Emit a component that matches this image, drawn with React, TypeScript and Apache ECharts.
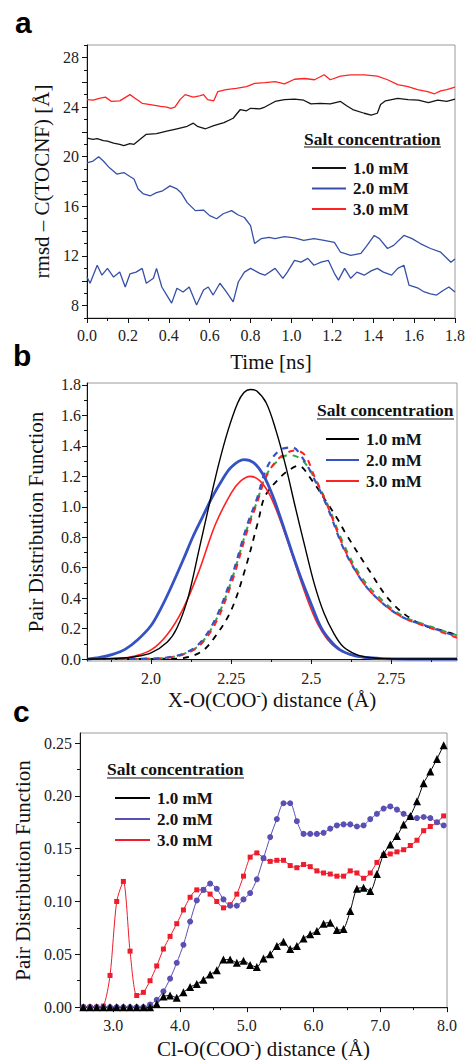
import React, { useEffect, useRef } from 'react';
import * as echarts from 'echarts';

const SERIF = '"Liberation Serif", "Times New Roman", serif';
const SANS = '"Liberation Sans", Arial, sans-serif';

// ---------- Panel a: rmsd vs time ----------
const rmsd10: [number, number][] = [
  [0, 21.5], [0.03, 21.4], [0.05, 21.45], [0.08, 21.3], [0.1, 21.25], [0.13, 21.1], [0.16, 21.0], [0.18, 20.9],
  [0.21, 21.05], [0.23, 21.0], [0.26, 21.4], [0.29, 21.8], [0.34, 21.85], [0.39, 22.05], [0.44, 22.25], [0.49, 22.45],
  [0.52, 22.7], [0.54, 22.45], [0.58, 22.25], [0.62, 22.5], [0.67, 22.75], [0.715, 23.1], [0.75, 23.8], [0.78, 23.7],
  [0.8, 23.9], [0.845, 23.85], [0.87, 24.0], [0.92, 24.45], [0.966, 24.6], [1.015, 24.64], [1.06, 24.55], [1.095, 24.25],
  [1.14, 24.3], [1.19, 24.25], [1.24, 24.45], [1.27, 24.1], [1.3, 23.8], [1.356, 23.5], [1.39, 23.35], [1.42, 23.5],
  [1.436, 24.2], [1.46, 24.5], [1.52, 24.7], [1.57, 24.6], [1.62, 24.55], [1.67, 24.35], [1.715, 24.55], [1.76, 24.45], [1.8, 24.64],
];
const rmsd20a: [number, number][] = [
  [0, 19.5], [0.03, 19.65], [0.057, 20.0], [0.08, 19.65], [0.11, 19.1], [0.146, 18.6], [0.18, 18.72], [0.21, 18.4],
  [0.23, 18.2], [0.25, 17.4], [0.276, 17.0], [0.31, 16.85], [0.34, 17.1], [0.37, 17.25], [0.406, 17.65], [0.44, 17.4],
  [0.46, 17.1], [0.49, 16.3], [0.53, 15.65], [0.57, 15.7], [0.6, 15.25], [0.634, 15.0], [0.666, 15.4], [0.707, 15.65],
  [0.74, 15.3], [0.77, 15.1], [0.8, 14.45], [0.82, 13.0], [0.853, 13.4], [0.89, 13.5], [0.92, 13.4], [0.966, 13.55],
  [1.015, 13.45], [1.06, 13.25], [1.11, 13.4], [1.16, 13.25], [1.21, 13.1], [1.24, 12.3], [1.29, 12.05], [1.34, 12.2],
  [1.37, 12.85], [1.405, 13.65], [1.43, 13.4], [1.47, 12.6], [1.5, 12.85], [1.55, 13.65], [1.59, 13.4], [1.63, 13.0],
  [1.68, 12.6], [1.73, 12.3], [1.78, 11.5], [1.8, 11.75],
];
const rmsd20b: [number, number][] = [
  [0, 10.3], [0.015, 9.8], [0.05, 11.25], [0.073, 10.45], [0.1, 11.0], [0.13, 10.3], [0.16, 10.7], [0.187, 9.5],
  [0.21, 10.55], [0.24, 10.7], [0.27, 11.0], [0.29, 9.8], [0.325, 10.2], [0.34, 11.0], [0.366, 9.5], [0.39, 8.85],
  [0.414, 8.2], [0.44, 9.4], [0.47, 9.1], [0.5, 9.5], [0.536, 8.05], [0.57, 9.25], [0.593, 9.5], [0.617, 8.85],
  [0.65, 9.8], [0.68, 9.15], [0.715, 8.3], [0.74, 9.9], [0.77, 10.7], [0.8, 11.0], [0.845, 10.6], [0.87, 10.45],
  [0.92, 11.0], [0.958, 10.2], [0.98, 10.7], [1.015, 11.65], [1.047, 11.5], [1.08, 11.8], [1.11, 11.25], [1.145, 11.5],
  [1.18, 11.65], [1.21, 10.6], [1.23, 10.05], [1.26, 11.0], [1.29, 10.2], [1.32, 10.7], [1.356, 10.45], [1.39, 10.8],
  [1.42, 11.0], [1.45, 10.7], [1.49, 10.45], [1.52, 11.0], [1.55, 11.25], [1.575, 9.65], [1.62, 9.4], [1.65, 9.1],
  [1.68, 8.95], [1.71, 8.85], [1.74, 9.2], [1.77, 9.5], [1.8, 9.1],
];
const rmsd30: [number, number][] = [
  [0, 24.6], [0.03, 24.55], [0.06, 24.7], [0.09, 24.8], [0.12, 24.45], [0.16, 24.5], [0.19, 24.8], [0.21, 25.0],
  [0.24, 24.65], [0.27, 24.3], [0.31, 24.2], [0.36, 24.05], [0.39, 24.0], [0.41, 23.9], [0.43, 24.0], [0.455, 24.6],
  [0.48, 25.0], [0.52, 24.8], [0.55, 24.9], [0.57, 25.0], [0.59, 24.6], [0.62, 24.5], [0.64, 25.25], [0.68, 25.4],
  [0.73, 25.5], [0.78, 25.65], [0.82, 25.9], [0.87, 25.97], [0.92, 26.05], [0.966, 25.87], [1.015, 26.24], [1.064, 26.3],
  [1.113, 26.2], [1.16, 26.6], [1.19, 26.2], [1.24, 26.5], [1.29, 26.6], [1.356, 26.6], [1.42, 26.5], [1.47, 26.2],
  [1.52, 25.8], [1.57, 25.65], [1.617, 25.4], [1.666, 25.25], [1.7, 25.07], [1.73, 25.3], [1.76, 25.4], [1.8, 25.6],
];

// ---------- Panel b: X-O(COO-) pair distribution ----------
const pdfB10: [number, number][] = [
  [1.8, 0], [1.9, 0.005], [1.95, 0.015], [2.0, 0.04], [2.05, 0.11], [2.08, 0.2], [2.115, 0.4], [2.15, 0.72], [2.18, 1.0],
  [2.21, 1.27], [2.24, 1.5], [2.27, 1.68], [2.29, 1.75], [2.31, 1.77], [2.33, 1.76], [2.36, 1.68], [2.39, 1.5], [2.42, 1.27],
  [2.45, 1.0], [2.48, 0.74], [2.51, 0.49], [2.54, 0.3], [2.57, 0.17], [2.6, 0.08], [2.64, 0.03], [2.68, 0.01], [2.74, 0.002],
  [2.8, 0], [2.955, 0],
];
const pdfB20: [number, number][] = [
  [1.8, 0], [1.84, 0.01], [1.88, 0.03], [1.92, 0.065], [1.96, 0.13], [2.0, 0.22], [2.03, 0.33], [2.06, 0.46], [2.1, 0.65],
  [2.13, 0.8], [2.16, 0.93], [2.19, 1.06], [2.22, 1.17], [2.25, 1.26], [2.29, 1.31], [2.32, 1.29], [2.35, 1.21], [2.38, 1.07],
  [2.41, 0.89], [2.44, 0.7], [2.47, 0.52], [2.5, 0.36], [2.53, 0.21], [2.56, 0.12], [2.59, 0.06], [2.63, 0.025], [2.67, 0.01],
  [2.72, 0.003], [2.8, 0], [2.955, 0],
];
const pdfB30: [number, number][] = [
  [1.8, 0], [1.9, 0.005], [1.95, 0.02], [2.0, 0.06], [2.05, 0.16], [2.1, 0.33], [2.15, 0.58], [2.2, 0.88], [2.25, 1.09],
  [2.28, 1.17], [2.31, 1.2], [2.34, 1.17], [2.37, 1.08], [2.4, 0.93], [2.43, 0.75], [2.46, 0.56], [2.49, 0.38], [2.52, 0.23],
  [2.55, 0.13], [2.58, 0.07], [2.62, 0.03], [2.66, 0.01], [2.72, 0.002], [2.8, 0], [2.955, 0],
];
const pdfBDashBlue: [number, number][] = [
  [1.8, 0], [1.9, 0], [2.0, 0.003], [2.05, 0.01], [2.1, 0.035], [2.15, 0.1], [2.2, 0.26], [2.25, 0.53], [2.3, 0.88],
  [2.33, 1.05], [2.36, 1.25], [2.4, 1.37], [2.44, 1.39], [2.47, 1.33], [2.51, 1.18], [2.55, 1.0], [2.6, 0.73], [2.65, 0.54],
  [2.7, 0.41], [2.78, 0.28], [2.87, 0.21], [2.955, 0.147],
];
const pdfBDashRed: [number, number][] = [
  [1.8, 0], [1.9, 0], [2.0, 0.002], [2.05, 0.008], [2.1, 0.03], [2.15, 0.085], [2.2, 0.23], [2.25, 0.49], [2.3, 0.84],
  [2.33, 1.02], [2.36, 1.2], [2.4, 1.32], [2.45, 1.37], [2.48, 1.34], [2.51, 1.2], [2.55, 1.01], [2.6, 0.74], [2.65, 0.54],
  [2.7, 0.41], [2.78, 0.28], [2.87, 0.205], [2.955, 0.14],
];
const pdfBDashGreen: [number, number][] = [
  [1.8, 0], [1.9, 0], [2.0, 0.002], [2.05, 0.009], [2.1, 0.032], [2.15, 0.09], [2.2, 0.245], [2.25, 0.51], [2.3, 0.86],
  [2.33, 1.03], [2.36, 1.21], [2.4, 1.31], [2.43, 1.34], [2.47, 1.31], [2.51, 1.19], [2.55, 1.02], [2.6, 0.76], [2.65, 0.56],
  [2.7, 0.43], [2.78, 0.29], [2.87, 0.215], [2.955, 0.155],
];
const pdfBDashBlack: [number, number][] = [
  [1.8, 0], [1.95, 0], [2.05, 0.002], [2.094, 0.005], [2.157, 0.048], [2.2, 0.147], [2.25, 0.32], [2.293, 0.585],
  [2.335, 0.91], [2.355, 1.066], [2.397, 1.18], [2.43, 1.24], [2.46, 1.27], [2.5, 1.18], [2.545, 1.04], [2.585, 0.91],
  [2.606, 0.83], [2.68, 0.585], [2.753, 0.366], [2.836, 0.235], [2.92, 0.18], [2.955, 0.158],
];

// ---------- Panel c: Cl-O(COO-) pair distribution ----------
const distC = [
  2.55, 2.65, 2.75, 2.85, 2.95, 3.05, 3.15, 3.25, 3.35, 3.45, 3.55, 3.65, 3.75, 3.85, 3.95, 4.05, 4.15, 4.25, 4.35,
  4.45, 4.55, 4.65, 4.75, 4.85, 4.95, 5.05, 5.15, 5.25, 5.35, 5.45, 5.55, 5.65, 5.75, 5.85, 5.95, 6.05, 6.15, 6.25,
  6.35, 6.45, 6.55, 6.65, 6.75, 6.85, 6.95, 7.05, 7.15, 7.25, 7.35, 7.45, 7.55, 7.65, 7.75, 7.85, 7.95,
];
const pdfC10 = [
  0, 0, 0, 0, 0, 0, 0, 0, 0, 0, 0, 0.003, 0.01, 0.011, 0.009, 0.014, 0.019, 0.022, 0.026, 0.031, 0.035, 0.045, 0.045,
  0.042, 0.044, 0.04, 0.038, 0.046, 0.05, 0.058, 0.062, 0.055, 0.058, 0.065, 0.069, 0.072, 0.079, 0.08, 0.073, 0.074,
  0.091, 0.112, 0.113, 0.11, 0.126, 0.145, 0.154, 0.162, 0.173, 0.181, 0.195, 0.212, 0.223, 0.235, 0.248,
];
const pdfC20 = [
  0, 0, 0, 0, 0, 0, 0, 0, 0, 0, 0.0025, 0.007, 0.015, 0.027, 0.042, 0.059, 0.081, 0.101, 0.111, 0.117, 0.112, 0.102,
  0.096, 0.096, 0.102, 0.108, 0.121, 0.141, 0.161, 0.178, 0.193, 0.193, 0.176, 0.164, 0.164, 0.164, 0.165, 0.169, 0.172,
  0.173, 0.173, 0.171, 0.172, 0.178, 0.183, 0.188, 0.19, 0.187, 0.183, 0.18, 0.179, 0.18, 0.179, 0.175, 0.172,
];
const pdfC30 = [
  0, 0, 0, 0.001, 0.03, 0.1, 0.119, 0.053, 0.011, 0.014, 0.025, 0.039, 0.055, 0.067, 0.079, 0.092, 0.104, 0.111, 0.111,
  0.107, 0.1, 0.094, 0.097, 0.107, 0.124, 0.142, 0.146, 0.141, 0.138, 0.139, 0.139, 0.134, 0.132, 0.135, 0.133, 0.129,
  0.127, 0.126, 0.124, 0.124, 0.129, 0.127, 0.122, 0.127, 0.137, 0.144, 0.145, 0.147, 0.149, 0.153, 0.158, 0.167, 0.171,
  0.175, 0.181,
];

// ---------- ticks / labels ----------
const tickAX = [0, 0.2, 0.4, 0.6, 0.8, 1.0, 1.2, 1.4, 1.6, 1.8];
const minorAX = [0.1, 0.3, 0.5, 0.7, 0.9, 1.1, 1.3, 1.5, 1.7];
const labelAY = [8, 12, 16, 20, 24, 28];
const tickAY = [8, 10, 12, 14, 16, 18, 20, 22, 24, 26, 28];
const minorAY = [7, 9, 11, 13, 15, 17, 19, 21, 23, 25, 27, 29];
const tickBX = [2.0, 2.25, 2.5, 2.75];
const labelBX = ['2.0', '2.25', '2.5', '2.75'];
const minorBX = [1.875, 2.125, 2.375, 2.625, 2.875];
const tickBY = [0, 0.2, 0.4, 0.6, 0.8, 1.0, 1.2, 1.4, 1.6, 1.8];
const minorBY = [0.1, 0.3, 0.5, 0.7, 0.9, 1.1, 1.3, 1.5, 1.7];
const tickCX = [3, 4, 5, 6, 7, 8];
const minorCX = [2.5, 3.5, 4.5, 5.5, 6.5, 7.5];
const tickCY = [0, 0.05, 0.1, 0.15, 0.2, 0.25];
const minorCY = [0.025, 0.075, 0.125, 0.175, 0.225];

const legendNames = ['1.0 mM', '2.0 mM', '3.0 mM'];
const legendTitle = 'Salt concentration';
const panelLetters = ['a', 'b', 'c'];

const AXC = '#111';

function mainAxis(o: any) {
  const isY = o.isY;
  return {
    type: 'value',
    gridIndex: o.grid,
    min: o.min,
    max: o.max,
    position: isY ? 'left' : 'bottom',
    name: o.name,
    nameLocation: 'middle',
    nameGap: o.nameGap,
    nameRotate: isY ? 90 : 0,
    nameTextStyle: {
      fontFamily: SERIF,
      fontSize: 21,
      color: AXC,
      rich: {
        sup: { fontFamily: SERIF, fontSize: 13, color: AXC, verticalAlign: 'top', lineHeight: 13 },
      },
    },
    axisLine: { show: true, lineStyle: { color: AXC, width: 1 } },
    axisTick: { show: true, inside: false, length: 5, customValues: o.ticks, lineStyle: { color: AXC } },
    axisLabel: {
      show: true,
      customValues: o.labels,
      formatter: o.fmt,
      fontFamily: SERIF,
      fontSize: 16,
      color: '#222',
      margin: o.margin,
    },
    splitLine: { show: false },
    minorTick: { show: false },
  };
}

function minorAxis(grid: number, min: number, max: number, vals: number[], isY: boolean) {
  return {
    type: 'value',
    gridIndex: grid,
    min,
    max,
    position: isY ? 'left' : 'bottom',
    axisLine: { show: false },
    axisTick: { show: true, inside: false, length: 3, customValues: vals, lineStyle: { color: AXC } },
    axisLabel: { show: false },
    splitLine: { show: false },
  };
}

const xAxes = [
  mainAxis({ grid: 0, min: 0, max: 1.8, ticks: tickAX, labels: tickAX, fmt: (v: number) => v.toFixed(1), name: 'Time [ns]', nameGap: 33, margin: 9 }),
  minorAxis(0, 0, 1.8, minorAX, false),
  mainAxis({ grid: 1, min: 1.8, max: 2.955, ticks: tickBX, labels: tickBX, fmt: (v: number) => labelBX[tickBX.indexOf(v)] ?? String(v), name: 'X-O(COO{sup|-}) distance (Å)', nameGap: 28, margin: 9 }),
  minorAxis(1, 1.8, 2.955, minorBX, false),
  mainAxis({ grid: 2, min: 2.5, max: 8.0, ticks: tickCX, labels: tickCX, fmt: (v: number) => v.toFixed(1), name: 'Cl-O(COO{sup|-}) distance (Å)', nameGap: 30, margin: 9 }),
  minorAxis(2, 2.5, 8.0, minorCX, false),
];
const yAxes = [
  mainAxis({ isY: true, grid: 0, min: 7, max: 29, ticks: tickAY, labels: labelAY, fmt: (v: number) => String(v), name: 'rmsd – C(TOCNF) [Å]', nameGap: 35, margin: 8 }),
  minorAxis(0, 7, 29, minorAY, true),
  mainAxis({ isY: true, grid: 1, min: -0.013, max: 1.813, ticks: tickBY, labels: tickBY, fmt: (v: number) => v.toFixed(1), name: 'Pair Distribution Function', nameGap: 41, margin: 6 }),
  minorAxis(1, -0.013, 1.813, minorBY, true),
  mainAxis({ isY: true, grid: 2, min: -0.0008, max: 0.2595, ticks: tickCY, labels: tickCY, fmt: (v: number) => v.toFixed(2), name: 'Pair Distribution Function', nameGap: 44, margin: 8 }),
  minorAxis(2, -0.0008, 0.2595, minorCY, true),
];

const gridBase = { show: true, borderColor: '#9a9a9a', borderWidth: 1, backgroundColor: 'transparent', containLabel: false };

function lineA(name: string, data: [number, number][], color: string) {
  return {
    type: 'line', name, xAxisIndex: 0, yAxisIndex: 0, data, symbol: 'none', smooth: false,
    lineStyle: { color, width: 1.3 }, itemStyle: { color },
  };
}
function lineB(name: string, data: [number, number][], color: string, width: number, dashed: boolean, offset = 0) {
  return {
    type: 'line', name, xAxisIndex: 2, yAxisIndex: 2, data, symbol: 'none', smooth: 0.35,
    lineStyle: { color, width, type: dashed ? [6, 6] : 'solid', dashOffset: offset }, itemStyle: { color },
  };
}
function lineC(name: string, ys: number[], color: string, symbol: string, size: number) {
  return {
    type: 'line', name, xAxisIndex: 4, yAxisIndex: 4,
    data: distC.map((x, i) => [x, ys[i]]),
    symbol, symbolSize: size, showSymbol: true, smooth: 0.25,
    lineStyle: { color, width: 1 }, itemStyle: { color, borderWidth: 0 },
  };
}

const colA = { k: '#141414', b: '#3550a6', r: '#ff2424' };
const colB = { k: '#000000', b: '#3452c4', r: '#ff2222', g: '#2aa84a' };
const colC = { k: '#000000', b: '#5a50b4', r: '#ee1c2c' };

function legendCfg(prefix: string, left: number, top: number, gap: number, width: number, colors: string[]) {
  return {
    orient: 'vertical', left, top, itemGap: gap, itemWidth: width, itemHeight: 2, icon: 'rect',
    selectedMode: false,
    data: legendNames.map((n, i) => ({ name: prefix + n, itemStyle: { color: colors[i] } })),
    formatter: (n: string) => n.slice(prefix.length),
    textStyle: { fontFamily: SERIF, fontWeight: 'bold', fontSize: 17, color: '#111', lineHeight: 20, padding: [0, 0, 0, 2] },
  };
}

function titleGraphics(x: number, baseline: number, underlineY: number) {
  return [
    {
      type: 'text', x, y: baseline - 6,
      style: { text: legendTitle, font: `bold 17.5px ${SERIF}`, fill: '#111', verticalAlign: 'middle', align: 'left' },
    },
    { type: 'line', shape: { x1: x, y1: underlineY, x2: x + 137, y2: underlineY }, style: { stroke: '#111', lineWidth: 1.2 } },
  ];
}

const letterPos = [[15, 22.5], [13, 355.5], [13, 711]];

const option = {
  animation: false,
  backgroundColor: '#ffffff',
  grid: [
    { ...gridBase, left: 87, top: 45, width: 369, height: 273 },
    { ...gridBase, left: 87, top: 383, width: 370, height: 278 },
    { ...gridBase, left: 80, top: 733, width: 367, height: 276 },
  ],
  xAxis: xAxes,
  yAxis: yAxes,
  legend: [
    legendCfg('a:', 307, 153, 0.5, 34, [colA.k, colA.b, colA.r]),
    legendCfg('b:', 321, 424, 1, 33, [colB.k, colB.b, colB.r]),
    legendCfg('c:', 110, 783, 1, 35, [colC.k, colC.b, colC.r]),
  ],
  graphic: [
    ...panelLetters.map((t, i) => ({
      type: 'text', x: letterPos[i][0], y: letterPos[i][1],
      style: { text: t, font: `bold 30px ${SANS}`, fill: '#000', verticalAlign: 'middle', align: 'left' },
    })),
    ...titleGraphics(304, 145, 147),
    ...titleGraphics(317, 416, 419),
    ...titleGraphics(107, 775, 778),
  ],
  series: [
    lineA('a:3.0 mM', rmsd30, colA.r),
    lineA('a:1.0 mM', rmsd10, colA.k),
    lineA('a:2.0 mM', rmsd20a, colA.b),
    lineA('a:2.0 mM', rmsd20b, colA.b),

    lineB('b:dashed black', pdfBDashBlack, colB.k, 1.8, true, 0),
    lineB('b:dashed green', pdfBDashGreen, colB.g, 2, true, 2),
    lineB('b:dashed red', pdfBDashRed, colB.r, 2, true, 4),
    lineB('b:dashed blue', pdfBDashBlue, colB.b, 2.2, true, 6),
    lineB('b:3.0 mM', pdfB30, colB.r, 1.6, false),
    lineB('b:2.0 mM', pdfB20, colB.b, 2.8, false),
    lineB('b:1.0 mM', pdfB10, colB.k, 1.4, false),

    lineC('c:3.0 mM', pdfC30, colC.r, 'rect', 5),
    lineC('c:2.0 mM', pdfC20, colC.b, 'circle', 6),
    lineC('c:1.0 mM', pdfC10, colC.k, 'triangle', 8),
  ],
};

export default function App() {
  const ref = useRef<HTMLDivElement>(null);
  useEffect(() => {
    if (!ref.current) return;
    const chart = echarts.init(ref.current, null, { renderer: 'svg' });
    chart.setOption(option as any);
    return () => chart.dispose();
  }, []);
  return <div ref={ref} style={{ position: 'absolute', left: 0, top: 0, width: 468, height: 1060, background: '#fff' }} />;
}
